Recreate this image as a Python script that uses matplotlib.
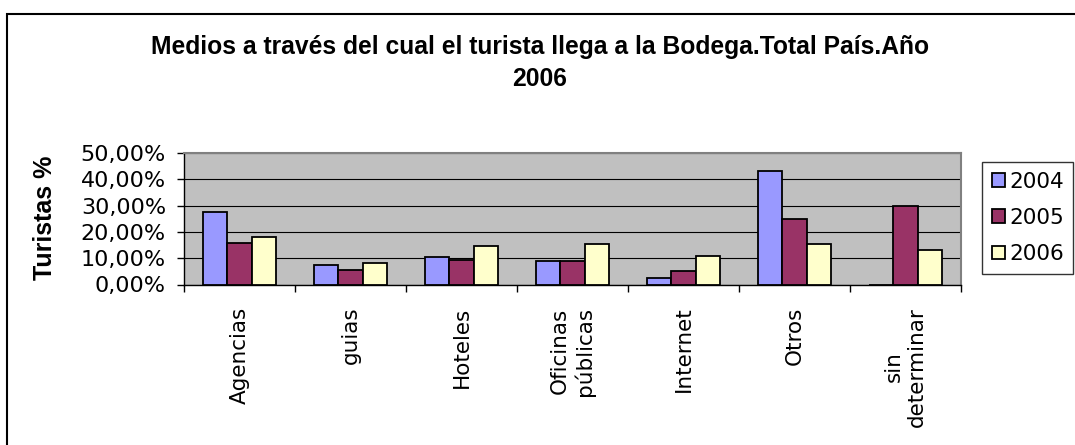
import matplotlib.pyplot as plt
import numpy as np
from matplotlib.patches import Rectangle
from matplotlib.ticker import FuncFormatter

categorias = ['Agencias', 'guias', 'Hoteles', 'Oficinas\npúblicas', 'Internet', 'Otros', 'sin\ndeterminar']
anios = ['2004', '2005', '2006']
v2004 = [27.4, 7.4, 10.3, 8.8, 2.4, 43.0, 0.0]
v2005 = [15.6, 5.5, 9.3, 8.9, 5.2, 24.8, 30.0]
v2006 = [17.9, 8.3, 14.6, 15.5, 10.7, 15.4, 13.1]
colores = ['#9999FF', '#993366', '#FFFFCC']

plt.rcParams['font.family'] = 'DejaVu Sans'

fig = plt.figure(figsize=(10.75, 4.45), dpi=100)
ax = fig.add_axes([184/1075, 1 - 284.5/445, 777/1075, 131.5/445])
ax.set_facecolor('#C0C0C0')

x = np.arange(len(categorias))
w = 0.222
for i, (vals, c, lab) in enumerate(zip([v2004, v2005, v2006], colores, anios)):
    ax.bar(x + (i - 1) * w, vals, w, color=c, edgecolor='black', linewidth=1.3,
           label=lab, zorder=3)

ax.set_xlim(-0.5, len(categorias) - 0.5)
ax.set_ylim(0, 50)
ax.set_yticks(np.arange(0, 51, 10))
ax.yaxis.set_major_formatter(FuncFormatter(lambda v, p: f'{v:.2f}%'.replace('.', ',')))
ax.yaxis.grid(True, color='black', linewidth=0.8)
ax.set_axisbelow(True)

ax.set_xticks(x)
ax.set_xticklabels(categorias, rotation=90, ha='center', va='top')
ax.set_xticks(np.arange(-0.5, len(categorias)), minor=True)
ax.tick_params(axis='x', which='major', length=0, pad=16, labelsize=15.5)
ax.tick_params(axis='x', which='minor', length=5, width=1)
ax.tick_params(axis='y', length=5, width=1, pad=8, labelsize=16)

for s in ['left', 'bottom']:
    ax.spines[s].set_color('black')
    ax.spines[s].set_linewidth(1)
for s in ['top', 'right']:
    ax.spines[s].set_color('#808080')
    ax.spines[s].set_linewidth(1.5)

fig.text(0.502, 1 - 63/445, 'Medios a través del cual el turista llega a la Bodega.Total País.Año\n2006',
         ha='center', va='center', fontsize=17.7, fontweight='bold',
         family='Liberation Sans', linespacing=1.45)
fig.text(45/1075, 1 - 218/445, 'Turistas %', rotation=90, ha='center', va='center',
         fontsize=18, fontweight='bold', family='Liberation Sans')

leg = fig.legend(loc='upper left', bbox_to_anchor=(982/1075, 1 - 162/445),
                 fontsize=15.5, frameon=True, fancybox=False, borderaxespad=0,
                 handlelength=0.6, handleheight=0.6, handletextpad=0.2,
                 labelspacing=0.75, borderpad=0.45)
leg.get_frame().set_edgecolor('black')
leg.get_frame().set_linewidth(1)

fig.add_artist(Rectangle((7/1075, -0.1), 1.2, 1 - 14/445 + 0.1, transform=fig.transFigure,
                         fill=False, edgecolor='black', linewidth=1.5))

fig.savefig('out.png', dpi=100)
